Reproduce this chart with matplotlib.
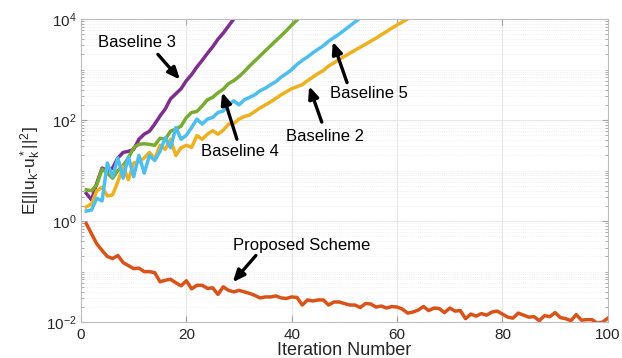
import numpy as np
import matplotlib
matplotlib.use("Agg")
import matplotlib.pyplot as plt
from matplotlib.ticker import LogLocator, NullFormatter, FixedLocator

plt.rcParams['font.family'] = ['Liberation Sans', 'DejaVu Sans']
plt.rcParams['mathtext.fontset'] = 'custom'
plt.rcParams['mathtext.rm'] = 'Liberation Sans'
plt.rcParams['mathtext.it'] = 'Liberation Sans'

# log10 of E[||u_k - u_k*||^2], iteration 1..N
proposed_log10 = [
    -0.05, -0.25, -0.45, -0.58, -0.70, -0.74, -0.68, -0.82, -0.88, -0.94,
    -0.93, -1.00, -1.00, -1.02, -1.20, -1.17, -1.15, -1.22, -1.28, -1.18,
    -1.34, -1.27, -1.27, -1.33, -1.32, -1.45, -1.30, -1.37, -1.40, -1.37,
    -1.40, -1.43, -1.47, -1.52, -1.50, -1.50, -1.48, -1.52, -1.53, -1.50,
    -1.51, -1.66, -1.56, -1.58, -1.56, -1.56, -1.66, -1.60, -1.60, -1.63,
    -1.66, -1.66, -1.71, -1.63, -1.64, -1.70, -1.68, -1.72, -1.69, -1.70,
    -1.74, -1.82, -1.80, -1.76, -1.69, -1.77, -1.72, -1.73, -1.81, -1.72,
    -1.78, -1.77, -1.93, -1.84, -1.88, -1.83, -1.86, -1.80, -1.78, -1.84,
    -1.90, -1.92, -1.82, -1.86, -1.90, -1.89, -1.97, -1.87, -1.89, -1.81,
    -1.91, -1.93, -1.97, -1.85, -1.96, -1.95, -1.95, -2.02, -2.00, -1.92,
]
baseline3_log10 = [
    0.55, 0.42, 0.75, 1.05, 1.00, 1.05, 1.25, 1.36, 1.38, 1.42,
    1.62, 1.72, 1.78, 1.92, 2.08, 2.22, 2.42, 2.52, 2.62, 2.78,
    2.90, 3.05, 3.18, 3.32, 3.45, 3.60, 3.72, 3.86, 4.00, 4.15,
]
baseline4_log10 = [
    0.62, 0.60, 0.72, 1.03, 0.95, 0.85, 1.00, 1.10, 1.25, 1.45,
    1.52, 1.53, 1.52, 1.50, 1.64, 1.62, 1.78, 1.82, 1.88, 2.05,
    2.15, 2.17, 2.28, 2.40, 2.45, 2.54, 2.61, 2.72, 2.78, 2.86,
    2.96, 3.07, 3.17, 3.27, 3.37, 3.47, 3.57, 3.67, 3.77, 3.88,
    3.98, 4.08,
]
baseline5_log10 = [
    0.20, 0.22, 0.45, 0.40, 1.15, 0.88, 1.25, 0.85, 1.27, 0.88,
    1.30, 0.95, 1.30, 1.20, 1.38, 1.65, 1.45, 1.85, 1.62, 1.70,
    1.85, 2.02, 1.92, 2.02, 2.05, 2.15, 2.18, 2.30, 2.38, 2.30,
    2.40, 2.45, 2.50, 2.58, 2.63, 2.70, 2.76, 2.85, 2.92, 3.00,
    3.10, 3.18, 3.25, 3.33, 3.40, 3.47, 3.56, 3.63, 3.70, 3.78,
    3.86, 3.94, 4.02,
]
baseline2_log10 = [
    0.28, 0.34, 0.60, 0.67, 0.50, 0.52, 0.78, 1.08, 0.82, 1.15,
    1.18, 1.25, 1.36, 1.23, 1.50, 1.42, 1.62, 1.30, 1.45, 1.50,
    1.46, 1.69, 1.62, 1.72, 1.79, 1.72, 1.80, 1.92, 1.93, 2.02,
    2.07, 2.10, 2.17, 2.24, 2.30, 2.36, 2.43, 2.50, 2.56, 2.62,
    2.66, 2.70, 2.78, 2.85, 2.92, 2.98, 3.07, 3.13, 3.20, 3.26,
    3.32, 3.38, 3.44, 3.50, 3.56, 3.62, 3.69, 3.75, 3.82, 3.88,
    3.94, 4.00, 4.06,
]

series = [
    ('Proposed Scheme', proposed_log10, '#D95319'),
    ('Baseline 3', baseline3_log10, '#7E2F8E'),
    ('Baseline 4', baseline4_log10, '#77AC30'),
    ('Baseline 2', baseline2_log10, '#EDB120'),
    ('Baseline 5', baseline5_log10, '#4DBEEE'),
]

# (label, text position, arrow tail, arrow head) as (iteration, log10 value)
annotations = [
    ('Baseline 3', (10.6, 3.53), (14.6, 3.30), (18.8, 2.80)),
    ('Baseline 4', (30.2, 1.37), (29.6, 1.62), (26.8, 2.55)),
    ('Baseline 5', (54.6, 2.53), (50.5, 2.74), (47.8, 3.55)),
    ('Baseline 2', (46.3, 1.68), (45.7, 1.96), (43.3, 2.67)),
    ('Proposed Scheme', (41.9, -0.48), (33.2, -0.68), (28.8, -1.21)),
]

fig = plt.figure(figsize=(6.22, 3.58), dpi=100)
ax = fig.add_axes([0.1302, 0.1, 0.847, 0.847])

for name, vals, color in series:
    it = np.arange(1, len(vals) + 1)
    ax.plot(it, 10.0 ** np.array(vals), color=color, lw=2.5)

ax.set_yscale('log')
ax.set_xlim(0, 100)
ax.set_ylim(1e-2, 1e4)
ax.set_xticks([0, 20, 40, 60, 80, 100])
ax.yaxis.set_major_locator(FixedLocator([1e-2, 1e0, 1e2, 1e4]))
ax.yaxis.set_minor_locator(LogLocator(base=10, subs=np.arange(1, 10) * 1.0, numticks=20))
ax.yaxis.set_minor_formatter(NullFormatter())

ax.grid(True, which='major', color='#e2e2e2', lw=0.6)
ax.grid(True, which='minor', axis='y', color='#e6e6e6', lw=0.5, ls=':')
ax.set_axisbelow(True)

for s in ax.spines.values():
    s.set_color('#bdbdbd')
    s.set_linewidth(0.8)
ax.tick_params(which='both', direction='in', top=True, right=True, color='#a0a0a0',
               labelcolor='#262626', labelsize=11)
ax.tick_params(axis='x', pad=4)
ax.tick_params(axis='y', pad=3)
ax.tick_params(which='major', length=4)
ax.tick_params(which='minor', length=2)

ax.set_xlabel('Iteration Number', fontsize=13, color='#262626', labelpad=0)
ax.set_ylabel(r'E[||u$_k$-u$_k^*$||$^2$]', fontsize=12.5, color='#262626', labelpad=2)

for label, tpos, tail, head in annotations:
    ax.text(tpos[0], 10 ** tpos[1], label, fontsize=12, ha='center', va='center', color='black')
    ax.annotate('', xy=(head[0], 10 ** head[1]), xytext=(tail[0], 10 ** tail[1]),
                arrowprops=dict(arrowstyle='-|>,head_length=0.7,head_width=0.3',
                                color='black', lw=2.4, shrinkA=0, shrinkB=0))

fig.savefig('out.png', dpi=100)
